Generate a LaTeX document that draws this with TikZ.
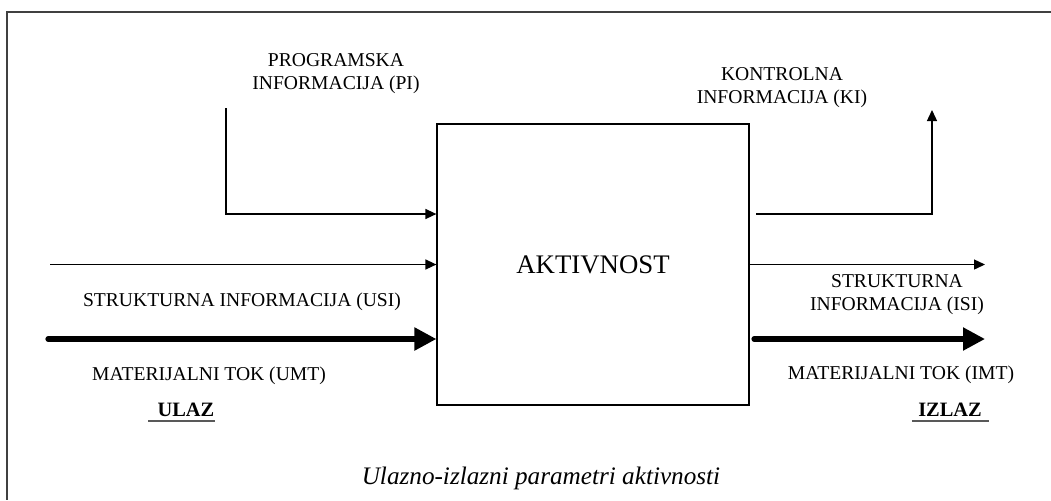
\documentclass[tikz,border=0pt]{standalone}
\usepackage{fontspec}
\setmainfont{Liberation Serif}
\usetikzlibrary{arrows.meta,positioning}

\tikzset{
  lbl/.style={font=\fontsize{9.8}{11.5}\selectfont, align=center, inner sep=0pt},
  side/.style={font=\bfseries\fontsize{10.2}{12}\selectfont, inner sep=0pt},
  ulline/.style={line width=1pt, color=black!65},
  thinarrow/.style={line width=0.7pt, -{Triangle[length=5.5pt,width=5pt]}},
  thickarrow/.style={line width=2.6pt, line cap=round, -{Triangle[length=11pt,width=11pt]}},
  actbox/.style={draw, line width=0.6pt, minimum width=156pt, minimum height=140.5pt,
    inner sep=0pt, font=\fontsize{13.4}{16}\selectfont},
}

\begin{document}
\begin{tikzpicture}[x=0.5pt,y=-0.5pt]
  \useasboundingbox (0,0) rectangle (1051,500);
  \draw[line width=1pt,color=black!75] (1051,12) -- (7,12) -- (7,500);

  % activity box
  \node[actbox] (akt) at (593,264.5) {AKTIVNOST};

  % inputs
  \coordinate (piTop) at (226,108);
  \coordinate (usiStart) at (50,264.5);
  \coordinate (umtStart) at (48,339);
  \draw[thinarrow] (piTop) |- (akt.west |- 0,214);
  \draw[thinarrow] (usiStart) -- (akt.west);
  \draw[thickarrow] (umtStart) -- (akt.west |- umtStart);

  % outputs
  \coordinate (kiStart) at (756,214);
  \coordinate (kiEnd) at (932,110);
  \coordinate (isiEnd) at (985,264.5);
  \coordinate (imtStart) at (754,339);
  \coordinate (imtEnd) at (985,339);
  \draw[thinarrow] (kiStart) -| (kiEnd);
  \draw[thinarrow] (akt.east) -- (isiEnd);
  \draw[thickarrow] (imtStart) -- (imtEnd);

  % labels
  \node[lbl] (piLbl) at (336,73.5) {PROGRAMSKA\\INFORMACIJA (PI)};
  \node[lbl] (kiLbl) at (782,88) {KONTROLNA\\INFORMACIJA (KI)};
  \node[lbl] (usiLbl) at (242,302) {STRUKTURNA INFORMACIJA (USI)};
  \node[lbl] (umtLbl) at (209,376) {MATERIJALNI TOK (UMT)};
  \node[lbl] (isiLbl) at (897,294.5) {STRUKTURNA\\INFORMACIJA (ISI)};
  \node[lbl] (imtLbl) at (901,375) {MATERIJALNI TOK (IMT)};

  \node[side] (ulaz) at (186,410) {ULAZ};
  \node[side] (izlaz) at (950,410) {IZLAZ};
  \draw[ulline] ([xshift=-4.5pt,yshift=-2pt]ulaz.south west) -- ([yshift=-2pt]ulaz.south east);
  \draw[ulline] ([xshift=-3pt,yshift=-2pt]izlaz.south west) -- ([xshift=3.5pt,yshift=-2pt]izlaz.south east);

  \node[font=\itshape\fontsize{12.6}{15}\selectfont, inner sep=0pt] (caption) at (541,478)
    {Ulazno-izlazni parametri aktivnosti};
\end{tikzpicture}
\end{document}
